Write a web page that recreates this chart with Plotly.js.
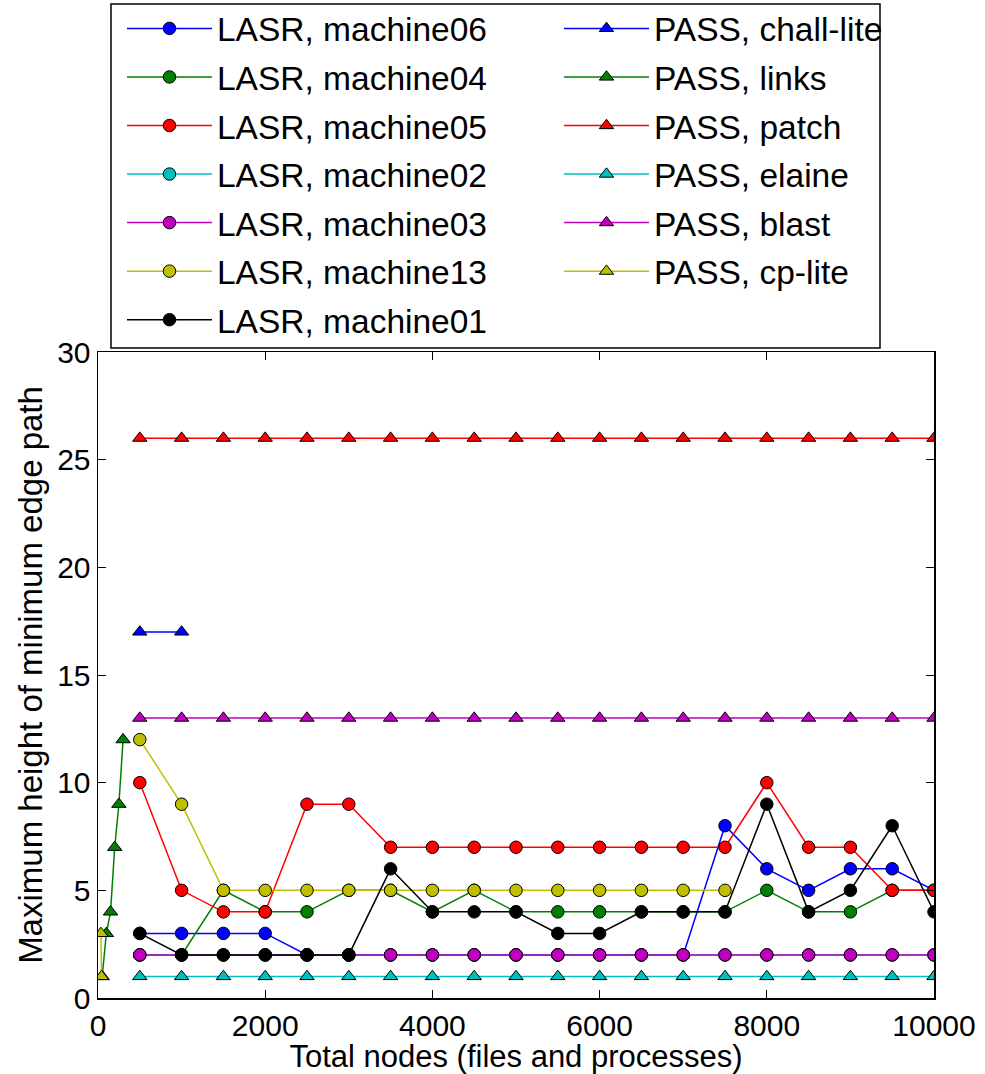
<!DOCTYPE html>
<html>
<head>
<meta charset="utf-8">
<script src="https://cdn.plot.ly/plotly-3.0.1.min.js"></script>
<style>html,body{margin:0;padding:0;background:#fff;}#chart{width:985px;height:1074px;}</style>
</head>
<body>
<div id="chart"></div>
<script>
// ---- Data ----
var lasrX = [500,1000,1500,2000,2500,3000,3500,4000,4500,5000,5500,6000,6500,7000,7500,8000,8500,9000,9500,10000];
var machine06 = [3,3,3,3,2,2,2,2,2,2,2,2,2,2,8,6,5,6,6,5];
var machine04 = [2,2,5,4,4,5,5,4,5,4,4,4,4,4,4,5,4,4,5,5];
var machine05 = [10,5,4,4,9,9,7,7,7,7,7,7,7,7,7,10,7,7,5,5];
var machine02 = [2,2,2,2,2,2,2,2,2,2,2,2,2,2,2,2,2,2,2,2];
var machine03 = [2,2,2,2,2,2,2,2,2,2,2,2,2,2,2,2,2,2,2,2];
var machine13X = [500,1000,1500,2000,2500,3000,3500,4000,4500,5000,5500,6000,6500,7000,7500];
var machine13 = [12,9,5,5,5,5,5,5,5,5,5,5,5,5,5];
var machine01 = [3,2,2,2,2,2,6,4,4,4,3,3,4,4,4,9,4,5,8,4];

var passX = [500,1000,1500,2000,2500,3000,3500,4000,4500,5000,5500,6000,6500,7000,7500,8000,8500,9000,9500,10000];
var challLiteX = [500,1000];
var challLite = [17,17];
var linksX = [50,100,150,200,250,300];
var links = [1,3,4,7,9,12];
var patch = [26,26,26,26,26,26,26,26,26,26,26,26,26,26,26,26,26,26,26,26];
var elaine = [1,1,1,1,1,1,1,1,1,1,1,1,1,1,1,1,1,1,1,1];
var blast = [13,13,13,13,13,13,13,13,13,13,13,13,13,13,13,13,13,13,13,13];
var cpLiteX = [35,42];
var cpLite = [3,1];

var xTicks = [0,2000,4000,6000,8000,10000];
var yTicks = [0,5,10,15,20,25,30];

// ---- Styles ----
var FONT = 'Liberation Sans, Arial, Helvetica, sans-serif';
var C = {b:'#0000ff', g:'#008000', r:'#ff0000', c:'#00bfbf', m:'#bf00bf', y:'#bfbf00', k:'#000000'};

function tr(name, x, y, color, symbol, legend, group) {
  return {
    type: 'scatter', mode: 'lines+markers', name: name, x: x, y: y,
    line: {color: color, width: 1.5},
    marker: {color: color, symbol: symbol, size: 12.5,
             line: {color: '#000', width: 1}},
    legend: legend, legendgroup: group, cliponaxis: true
  };
}

var data = [
  tr('LASR, machine06', lasrX, machine06, C.b, 'circle', 'legend', 'a1'),
  tr('LASR, machine04', lasrX, machine04, C.g, 'circle', 'legend', 'a2'),
  tr('LASR, machine05', lasrX, machine05, C.r, 'circle', 'legend', 'a3'),
  tr('LASR, machine02', lasrX, machine02, C.c, 'circle', 'legend', 'a4'),
  tr('LASR, machine03', lasrX, machine03, C.m, 'circle', 'legend', 'a5'),
  tr('LASR, machine13', machine13X, machine13, C.y, 'circle', 'legend', 'a6'),
  tr('LASR, machine01', lasrX, machine01, C.k, 'circle', 'legend', 'a7'),
  tr('PASS, chall-lite', challLiteX, challLite, C.b, 'triangle-up', 'legend2', 'b1'),
  tr('PASS, links', linksX, links, C.g, 'triangle-up', 'legend2', 'b2'),
  tr('PASS, patch', passX, patch, C.r, 'triangle-up', 'legend2', 'b3'),
  tr('PASS, elaine', passX, elaine, C.c, 'triangle-up', 'legend2', 'b4'),
  tr('PASS, blast', passX, blast, C.m, 'triangle-up', 'legend2', 'b5'),
  tr('PASS, cp-lite', cpLiteX, cpLite, C.y, 'triangle-up', 'legend2', 'b6')
];

var axisCommon = {
  showline: true, linecolor: '#000', linewidth: 1.5, mirror: 'ticks',
  ticks: 'inside', ticklen: 8, tickwidth: 1, tickcolor: '#000',
  showgrid: false, zeroline: false, automargin: false,
  tickfont: {family: FONT, size: 30, color: '#000'}
};

var legendCommon = {
  font: {family: FONT, size: 33.5, color: '#000'},
  bgcolor: 'rgba(0,0,0,0)', borderwidth: 0,
  traceorder: 'grouped', tracegroupgap: 2,
  xanchor: 'left', yanchor: 'top', itemwidth: 85
};

var layout = {
  width: 985, height: 1074,
  margin: {l: 98, r: 51, t: 352, b: 76, pad: 0, autoexpand: false},
  paper_bgcolor: '#fff', plot_bgcolor: '#fff',
  font: {family: FONT, color: '#000'},
  showlegend: true,
  xaxis: Object.assign({}, axisCommon, {
    range: [0, 10000], tickvals: xTicks, ticktext: xTicks.map(String),
    title: {text: 'Total nodes (files and processes)', font: {family: FONT, size: 31, color: '#000'}, standoff: 5}
  }),
  yaxis: Object.assign({}, axisCommon, {
    range: [0, 30], tickvals: yTicks, ticktext: yTicks.map(String),
    title: {text: 'Maximum height of minimum edge path', font: {family: FONT, size: 33, color: '#000'}, standoff: 4}
  }),
  legend: Object.assign({}, legendCommon, {x: 0.0287, y: 1.5447}),
  legend2: Object.assign({}, legendCommon, {x: 0.5514, y: 1.5447}),
  shapes: [{
    type: 'rect', xref: 'paper', yref: 'paper',
    x0: 0.01555, x1: 0.9354, y0: 1.0062, y1: 1.5387,
    line: {color: '#000', width: 1.5}, fillcolor: 'rgba(0,0,0,0)'
  }]
};

Plotly.newPlot('chart', data, layout, {displayModeBar: false, staticPlot: true});
</script>
</body>
</html>
